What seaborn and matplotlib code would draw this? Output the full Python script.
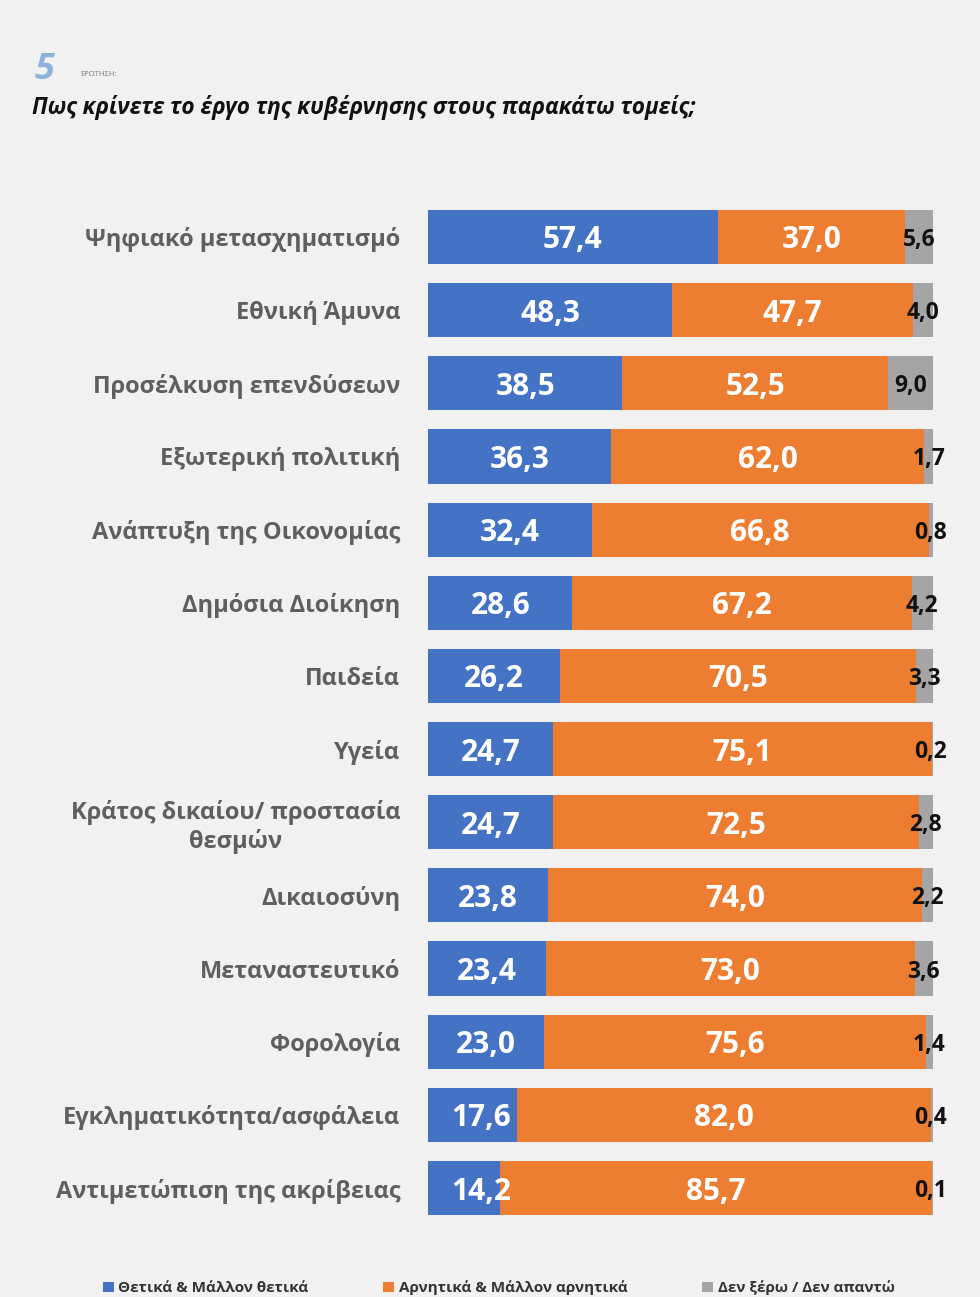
import matplotlib
matplotlib.use("Agg")
import matplotlib.pyplot as plt
from matplotlib.patches import Patch
import seaborn as sns
import pandas as pd

categories = [
    "Ψηφιακό μετασχηματισμό",
    "Εθνική Άμυνα",
    "Προσέλκυση επενδύσεων",
    "Εξωτερική πολιτική",
    "Ανάπτυξη της Οικονομίας",
    "Δημόσια Διοίκηση",
    "Παιδεία",
    "Υγεία",
    "Κράτος δικαίου/ προστασία\nθεσμών",
    "Δικαιοσύνη",
    "Μεταναστευτικό",
    "Φορολογία",
    "Εγκληματικότητα/ασφάλεια",
    "Αντιμετώπιση της ακρίβειας",
]
positive = [57.4, 48.3, 38.5, 36.3, 32.4, 28.6, 26.2, 24.7, 24.7, 23.8, 23.4, 23.0, 17.6, 14.2]
negative = [37.0, 47.7, 52.5, 62.0, 66.8, 67.2, 70.5, 75.1, 72.5, 74.0, 73.0, 75.6, 82.0, 85.7]
dontknow = [5.6, 4.0, 9.0, 1.7, 0.8, 4.2, 3.3, 0.2, 2.8, 2.2, 3.6, 1.4, 0.4, 0.1]

legend_labels = ["Θετικά & Μάλλον θετικά", "Αρνητικά & Μάλλον αρνητικά", "Δεν ξέρω / Δεν απαντώ"]
colors = ["#4472C4", "#ED7D31", "#A5A5A5"]

sns.set_style("white")
plt.rcParams["font.family"] = ["Open Sans", "DejaVu Sans"]

df = pd.DataFrame({"cat": categories, "pos": positive, "neg": negative, "dk": dontknow})
df["pos_neg"] = df["pos"] + df["neg"]
df["total"] = df["pos_neg"] + df["dk"]

bg = "#f1f1f1"
fig = plt.figure(figsize=(9.8, 12.97), dpi=100, facecolor=bg)
ax = fig.add_axes([428 / 980, 0.0558, 505 / 980, 0.7897])
ax.set_facecolor(bg)

# stacked bars drawn back to front
for col, c in zip(["total", "pos_neg", "pos"], colors[::-1]):
    sns.barplot(data=df, y="cat", x=col, color=c, orient="h", width=0.74,
                saturation=1, linewidth=0, ax=ax)

ax.set_xlim(0, 100)
ax.set_ylim(13.5, -0.5)
ax.set_xlabel("")
ax.set_ylabel("")
ax.set_xticks([])
ax.tick_params(axis="y", length=0, pad=20)
for lbl in ax.get_yticklabels():
    lbl.set_fontsize(17)
    lbl.set_fontweight("bold")
    lbl.set_color("#5f5f5f")
    lbl.set_multialignment("center")
sns.despine(ax=ax, left=True, bottom=True)

def fmt(v):
    return f"{v:.1f}".replace(".", ",")

for i, row in df.iterrows():
    xb = max(row["pos"] / 2, 10.6)
    ax.text(xb, i, fmt(row["pos"]), ha="center", va="center_baseline", color="white",
            fontsize=21.5, fontweight="bold")
    xo = row["pos"] + row["neg"] / 2
    ax.text(xo, i, fmt(row["neg"]), ha="center", va="center_baseline", color="white",
            fontsize=21.5, fontweight="bold")
    xg = min(row["pos_neg"] + row["dk"] / 2, 99.6)
    ax.text(xg, i, fmt(row["dk"]), ha="center", va="center_baseline", color="#111111",
            fontsize=16.5, fontweight="bold", clip_on=False)

# header
fig.text(35 / 980, 1 - 70 / 1297, "5", fontsize=26, fontweight="bold", style="italic",
         color="#8eb1dc", va="center", ha="left")
fig.text(80 / 980, 1 - 74 / 1297, "ΕΡΩΤΗΣΗ:", fontsize=5.5, color="#777777",
         va="center", ha="left")
fig.text(32 / 980, 1 - 108 / 1297,
         "Πως κρίνετε το έργο της κυβέρνησης στους παρακάτω τομείς;",
         fontsize=16.3, fontweight="bold", style="italic", color="#111111",
         va="center", ha="left")

handles = [Patch(facecolor=c, edgecolor="none") for c in colors]
fig.legend(handles, legend_labels, loc="center left",
           bbox_to_anchor=(103 / 980, 1 - 1288 / 1297), ncol=3, frameon=False,
           handlelength=0.7, handleheight=0.7, handletextpad=0.3,
           columnspacing=4.9, borderaxespad=0, borderpad=0,
           prop={"weight": "bold", "size": 11})
for t in fig.legends[0].get_texts():
    t.set_color("#333333")

fig.savefig("out.png", dpi=100, facecolor=bg)
